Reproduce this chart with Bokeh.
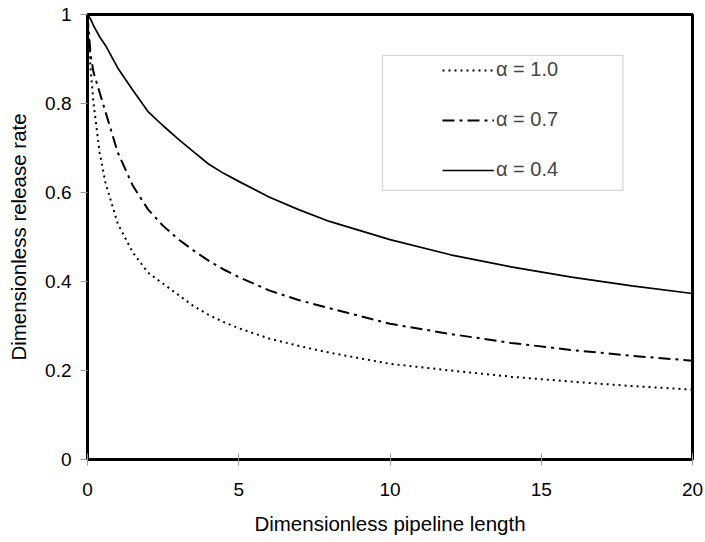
from bokeh.plotting import figure
from bokeh.models import Range1d, FixedTicker, Legend, LegendItem, BoxAnnotation
from bokeh.embed import file_html
from bokeh.resources import INLINE

# Data
x_vals = [0, 0.1, 0.2, 0.4, 0.6, 1, 1.5, 2, 2.5, 3, 3.5, 4, 4.5, 5, 6, 7, 8, 10, 12, 14, 16, 18, 20]
alpha_10 = [1.0, 0.88, 0.80, 0.69, 0.62, 0.53, 0.465, 0.42, 0.395, 0.37, 0.345, 0.325, 0.309, 0.295,
            0.272, 0.255, 0.24, 0.215, 0.20, 0.186, 0.175, 0.165, 0.157]
alpha_07 = [1.0, 0.91, 0.87, 0.825, 0.78, 0.69, 0.615, 0.562, 0.525, 0.495, 0.47, 0.447, 0.427, 0.41,
            0.38, 0.358, 0.34, 0.305, 0.282, 0.262, 0.246, 0.233, 0.222]
alpha_04 = [1.0, 0.99, 0.975, 0.95, 0.93, 0.88, 0.83, 0.782, 0.75, 0.72, 0.692, 0.664, 0.643, 0.625,
            0.59, 0.561, 0.535, 0.494, 0.46, 0.433, 0.41, 0.39, 0.373]
series_labels = ["α = 1.0", "α = 0.7", "α = 0.4"]
x_ticks = [0, 5, 10, 15, 20]
y_ticks = [0, 0.2, 0.4, 0.6, 0.8, 1.0]

FONT = "Liberation Sans"

p = figure(width=705, height=542, output_backend="svg", toolbar_location=None,
           x_range=Range1d(0, 20), y_range=Range1d(0, 1),
           min_border_left=87, min_border_right=13, min_border_top=14, min_border_bottom=83)

p.xgrid.visible = False
p.ygrid.visible = False
p.outline_line_color = "black"
p.outline_line_width = 3
p.background_fill_color = "white"
p.border_fill_color = "white"

# axes
p.xaxis.ticker = FixedTicker(ticks=x_ticks)
p.yaxis.ticker = FixedTicker(ticks=y_ticks)
p.yaxis.major_label_overrides = {0: "0", 1: "1", 0.2: "0.2", 0.4: "0.4", 0.6: "0.6", 0.8: "0.8"}
p.xaxis.minor_tick_line_color = None
p.yaxis.minor_tick_line_color = None
p.xaxis.axis_line_color = None
p.yaxis.axis_line_color = None
p.xaxis.major_tick_line_color = "#999999"
p.yaxis.major_tick_line_color = "#999999"
p.xaxis.major_tick_in = 6
p.xaxis.major_tick_out = 6
p.yaxis.major_tick_in = 0
p.yaxis.major_tick_out = 7
p.xaxis.major_label_standoff = 17
p.yaxis.major_label_standoff = 9
for ax in (p.xaxis, p.yaxis):
    ax.major_label_text_font = FONT
    ax.major_label_text_font_size = "19px"
    ax.major_label_text_color = "black"
    ax.axis_label_text_font = FONT
    ax.axis_label_text_font_size = "20.5px"
    ax.axis_label_text_font_style = "normal"
    ax.axis_label_text_color = "black"
p.xaxis.axis_label = "Dimensionless pipeline length"
p.yaxis.axis_label = "Dimensionless release rate"
p.xaxis.axis_label_standoff = 13
p.yaxis.axis_label_standoff = 12

r1 = p.line(x_vals, alpha_10, line_color="black", line_width=2, line_dash="2 4")
r2 = p.line(x_vals, alpha_07, line_color="black", line_width=2, line_dash="12 5 3 5")
r3 = p.line(x_vals, alpha_04, line_color="black", line_width=1.7)

# legend frame (position in data units)
p.add_layout(BoxAnnotation(left=9.75, right=17.7, top=0.908, bottom=0.605,
                           fill_color="white", fill_alpha=1.0,
                           line_color="#777777", line_width=1.2))

legend = Legend(items=[LegendItem(label=series_labels[0], renderers=[r1]),
                       LegendItem(label=series_labels[1], renderers=[r2]),
                       LegendItem(label=series_labels[2], renderers=[r3])],
                location=(345, 268), padding=10, spacing=27,
                glyph_width=52, glyph_height=20, label_height=20, label_standoff=2,
                border_line_alpha=0, background_fill_alpha=0,
                label_text_font=FONT, label_text_font_size="20px")
p.add_layout(legend)

open("out.html", "w").write(file_html(p, INLINE))
